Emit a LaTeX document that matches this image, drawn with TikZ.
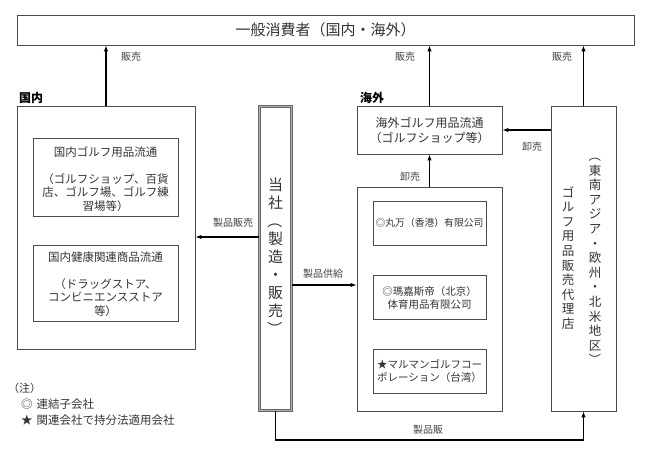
\documentclass[tikz,border=0pt]{standalone}
\usepackage{fontspec}
\setmainfont{Noto Sans CJK JP}
\usepackage{graphicx}
\usetikzlibrary{arrows.meta}
\newcommand{\vparen}[1]{\rotatebox[origin=c]{-90}{#1}}
\begin{document}
\begin{tikzpicture}[x=1pt,y=-1pt,
  box/.style={draw=black!70, line width=0.8pt, inner sep=0pt, text=black!80},
  arr/.style={-{Latex[length=6pt,width=4.5pt]}, line width=1.4pt},
  lbl/.style={font=\fontsize{10}{12}\selectfont, text=black!75, inner sep=0pt},
  head/.style={font=\fontsize{12}{14}\selectfont\bfseries, inner sep=0pt},
  txt/.style={align=center, text=black!80, inner sep=0pt}
]
\useasboundingbox (0,0) rectangle (648,460);

% boxes
\node[box, minimum width=617pt, minimum height=30pt, font=\fontsize{15}{18}\selectfont] (top) at (325.5,30) {一般消費者（国内・海外）};
\node[box, minimum width=178pt, minimum height=243pt] (dom) at (106,227.5) {};
\node[box, minimum width=145pt, minimum height=78pt] (lb1) at (105.5,177) {};
\node[box, minimum width=145pt, minimum height=76pt] (lb2) at (105.5,283) {};
\node[txt, font=\fontsize{11.5}{13.5}\selectfont] (lt1) at (105.5,179) {国内ゴルフ用品流通\\[13.5pt]（ゴルフショップ、百貨\\店、ゴルフ場、ゴルフ練\\習場等）};
\node[txt, font=\fontsize{11.5}{13.5}\selectfont] (lt2) at (105.5,284) {国内健康関連商品流通\\[13.5pt]（ドラッグストア、\\コンビニエンスストア\\等）};

\node[draw=black!60, line width=0.6pt, double=black!30, double distance=1.4pt, minimum width=32pt, minimum height=304pt, inner sep=0pt] (tosha) at (275.5,258.5) {};
\node[txt, font=\fontsize{15}{18}\selectfont] (toshat) at (275.5,257) {当\\社\\\vparen{（}\\製\\造\\・\\販\\売\\\vparen{）}};

\node[box, minimum width=145pt, minimum height=48pt] (ovd) at (429.5,130) {};
\node[txt, font=\fontsize{12}{15}\selectfont] (ovdt) at (429.5,130.5) {海外ゴルフ用品流通\\（ゴルフショップ等）};
\node[box, minimum width=145pt, minimum height=224pt] (ovl) at (429.5,299) {};
\node[box, minimum width=113pt, minimum height=44pt, font=\fontsize{9.8}{12}\selectfont] (s1) at (429.5,223) {◎丸万（香港）有限公司};
\node[box, minimum width=113pt, minimum height=44pt] (s2) at (429.5,297) {};
\node[txt, font=\fontsize{10.5}{12.5}\selectfont] (s2t) at (429.5,298) {◎瑪嘉斯帝（北京）\\体育用品有限公司};
\node[box, minimum width=113pt, minimum height=44pt] (s3) at (429.5,371) {};
\node[txt, font=\fontsize{10.5}{13}\selectfont] (s3t) at (429.5,371.5) {★マルマンゴルフコー\\ポレーション（台湾）};

\node[box, minimum width=65pt, minimum height=305pt] (agent) at (583.5,258.5) {};
\node[txt, font=\fontsize{12.5}{14.6}\selectfont] (agt1) at (595,258) {\vparen{（}\\東\\南\\ア\\ジ\\ア\\・\\欧\\州\\・\\北\\米\\地\\区\\\vparen{）}};
\node[txt, font=\fontsize{12.5}{14.6}\selectfont] (agt2) at (568,258) {ゴ\\ル\\フ\\用\\品\\販\\売\\代\\理\\店};

% headings
\node[head, anchor=west] (hdom) at (19,98) {国内};
\node[head, anchor=west] (hov) at (360,98) {海外};

% arrows
\draw[arr] (dom.north) -- (dom.north |- top.south);
\draw[arr] (ovd.north) -- (ovd.north |- top.south);
\draw[arr] (agent.north) -- (agent.north |- top.south);
\draw[arr] ([yshift=21.5pt]tosha.west) -- ([yshift=21.5pt]tosha.west -| dom.east);
\draw[arr] ([yshift=-26.5pt]tosha.east) -- ([yshift=-26.5pt]tosha.east -| ovl.west);
\draw[arr] (ovl.north) -- (ovd.south);
\draw[arr] (agent.west |- ovd.east) -- (ovd.east);
\draw[arr] (tosha.south) -- ++(0,29) -| (agent.south);

% labels
\node[lbl] (l1) at (131,57) {販売};
\node[lbl] (l2) at (405,57) {販売};
\node[lbl] (l3) at (562,57) {販売};
\node[lbl] (l4) at (233,223) {製品販売};
\node[lbl] (l5) at (323,274) {製品供給};
\node[lbl] (l6) at (410,177) {卸売};
\node[lbl] (l7) at (532,147) {卸売};
\node[lbl] (l8) at (428,430) {製品販};

% notes
\node[anchor=west, inner sep=0pt, font=\fontsize{11}{13}\selectfont, text=black!80] (n0) at (8,388) {（注）};
\node[anchor=west, inner sep=0pt, font=\fontsize{11.5}{13}\selectfont, text=black!80] (n1) at (21,404) {◎\hspace{4pt}連結子会社};
\node[anchor=west, inner sep=0pt, font=\fontsize{11.5}{13}\selectfont, text=black!80] (n2) at (21,420) {★\hspace{4pt}関連会社で持分法適用会社};
\end{tikzpicture}
\end{document}
